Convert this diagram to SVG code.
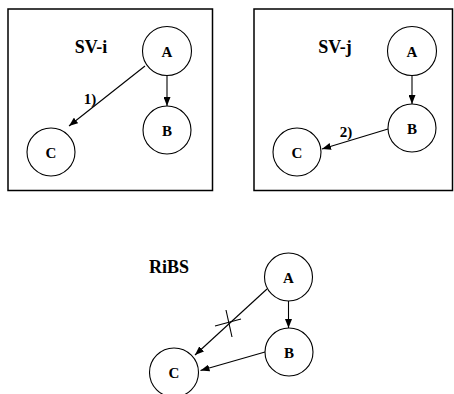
<svg xmlns="http://www.w3.org/2000/svg" width="454" height="394" viewBox="0 0 454 394">
<style>
.box{fill:none;stroke:#000;stroke-width:1.5}
.node{fill:#fff;stroke:#000;stroke-width:1.1}
.lbl{font-family:'Liberation Serif','Times New Roman','DejaVu Serif',serif;font-weight:bold;font-size:15px;fill:#000;text-anchor:middle}
.title{font-family:'Liberation Serif','Times New Roman','DejaVu Serif',serif;font-weight:bold;font-size:18px;fill:#000;text-anchor:middle}
.edge{fill:none;stroke:#000;stroke-width:1.1}
</style>
<defs>
<marker id="ah" markerUnits="userSpaceOnUse" markerWidth="9" markerHeight="7" refX="9" refY="3.5" orient="auto">
<path d="M0,0 L9,3.5 L0,7 z" fill="#000"/>
</marker>
</defs>
<rect x="8" y="9" width="204.5" height="181.5" class="box"/>
<rect x="254" y="9" width="198.5" height="181.5" class="box"/>
<text x="91" y="53" class="title" font-family="Liberation Serif, serif">SV-i</text>
<text x="335" y="53" class="title" font-family="Liberation Serif, serif">SV-j</text>
<text x="169" y="273" class="title" font-family="Liberation Serif, serif">RiBS</text>
<g id="edges">
<line x1="145" y1="66" x2="69" y2="126" class="edge" marker-end="url(#ah)"/>
<line x1="167" y1="75.5" x2="167" y2="106" class="edge" marker-end="url(#ah)"/>
<line x1="412" y1="75" x2="412" y2="104" class="edge" marker-end="url(#ah)"/>
<line x1="388" y1="129" x2="322" y2="149" class="edge" marker-end="url(#ah)"/>
<line x1="267" y1="289" x2="195" y2="355" class="edge" marker-end="url(#ah)"/>
<line x1="288.5" y1="301" x2="288.5" y2="328" class="edge" marker-end="url(#ah)"/>
<line x1="265" y1="352" x2="200.5" y2="370.5" class="edge" marker-end="url(#ah)"/>
<line x1="215" y1="326" x2="241" y2="319" class="edge"/>
<line x1="226" y1="310" x2="232" y2="337" class="edge"/>
<text x="90" y="104" class="lbl">1)</text>
<text x="346" y="137" class="lbl">2)</text>
</g>
<g id="svi-A"><circle cx="167" cy="51" r="24.5" class="node"/><text x="167" y="57" class="lbl">A</text></g>
<g id="svi-B"><circle cx="167" cy="130" r="24" class="node"/><text x="167" y="136" class="lbl">B</text></g>
<g id="svi-C"><circle cx="51" cy="152" r="24" class="node"/><text x="51" y="158" class="lbl">C</text></g>
<g id="svj-A"><circle cx="412" cy="51" r="24.5" class="node"/><text x="412" y="57" class="lbl">A</text></g>
<g id="svj-B"><circle cx="412" cy="128" r="24" class="node"/><text x="412" y="134" class="lbl">B</text></g>
<g id="svj-C"><circle cx="297" cy="152" r="24" class="node"/><text x="297" y="158" class="lbl">C</text></g>
<g id="ribs-A"><circle cx="288.5" cy="277" r="24" class="node"/><text x="288.5" y="283" class="lbl">A</text></g>
<g id="ribs-B"><circle cx="289" cy="352" r="24" class="node"/><text x="289" y="358" class="lbl">B</text></g>
<g id="ribs-C"><circle cx="174" cy="372.5" r="24.5" class="node"/><text x="174" y="378" class="lbl">C</text></g>
</svg>
